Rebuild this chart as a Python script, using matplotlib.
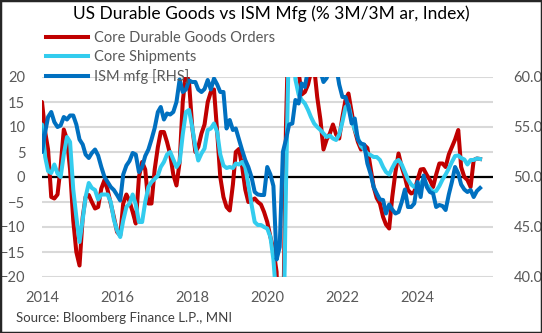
import matplotlib
matplotlib.use('Agg')
import matplotlib.pyplot as plt
import matplotlib.dates as mdates
from matplotlib.patches import Rectangle
import pandas as pd

plt.rcParams['font.family'] = ['Lato', 'DejaVu Sans']

# monthly, Dec 2013 .. Sep 2025
dates = pd.date_range('2013-12-01', periods=142, freq='MS')

core_orders = [
    4, 15, 9, 5.5, -4, -4.3, -3.5, 2, 9.5, 7.5, 1.5, -8.7, -15,
    -17.7, -8, -4, -3.6, -5, -6.3, -6, -2.3, -0.6, -2.6, -5.3, -8,
    -11, -11.7, -5.3, -3.5, -4.8, -7, -9.3, 0, 3, 1.5, -5.3, -5.3,
    1.5, 6, 9, 9, 7, 4.5, 0.5, -1.7, 3, 15, 21, 19,
    10, 5, 6, 8.7, 10.5, 15, 17, 17.5, 9, 0, -4, -6,
    -6.7, -1.5, 5, 5.6, 2.2, -2.5, -5, -4.7, -4.3, -5, -5.5, -7,
    -9, -12, -14.5, -19, -45, -35, 10, 35, 25, 22, 21, 16.5,
    17, 18.5, 21, 22, 16, 11.5, 5.5, 7.5, 8.7, 10.5, 8.5, 7.7,
    12, 15.5, 16.7, 13, 9.4, 7, 5.5, 6.4, 5.8, 2, -2, -4.2,
    -5.3, -8, -9.5, -10.3, -4, 1, 4.7, 2, 0, -2.6, -3.3, -3,
    -0.6, 1.5, 1.6, 0.4, -0.6, -2, 0.5, 2.7, 2.7, 2, 4.5, 6,
    7.5, 9.4, 2, 0, -0.6, -2, 3.4, 3.7, 3.6,
]

core_shipments = [
    10, 10.5, 4, 1.2, 0.8, 2.5, 0.7, 0, 4.5, 8, 7, -2.5, -8,
    -13, -8.5, -4, -1.2, -2.2, -2.6, -4.5, -3.5, -3.5, -3.5, -5, -8.5,
    -10.7, -12, -8.7, -6, -5.3, -3.5, -5.5, -9, -9, -5, -2, -1,
    -0.4, 0.3, 2, 3, 4.5, 5, 3.5, 2, 3, 8.5, 13, 13.4,
    10, 6, 3.3, 4.7, 5.7, 9.4, 9.7, 10.7, 9, 4.5, 2.3, 1.8,
    2, 1.8, 2.7, 2.5, 3, 2, -1.5, -5.5, -9, -9.6, -9.6, -10,
    -10.3, -12, -16.5, -25, -45, -40, -2, 30, 30, 19.5, 16.5, 15.4,
    14.7, 13.4, 12, 10.7, 10, 9.4, 8.7, 8, 8.3, 7.7, 7.4, 8.5,
    11, 14, 14.5, 11.5, 9.5, 7.8, 6.2, 5.5, 4.7, 4.4, 4, 4,
    3.4, 2, 1, 0.5, 1.8, 3, 3.4, 2.5, 1, -0.5, -1.5, -2,
    -1.5, -1.3, -0.5, -1.6, -2.3, -3, -2.8, -1.8, -0.5, 0.5, 1.7, 3,
    4.2, 4.3, 3.8, 3.5, 2.5, 3.4, 3.4, 3.7, 3.6,
]

ism_mfg = [
    57.0, 52.5, 54.5, 56.0, 56.5, 55.5, 55.0, 55.15, 56.0, 55.75, 56.15, 56.15, 55.25,
    53.75, 53.25, 52.25, 51.9, 52.4, 52.75, 52.15, 51.0, 50.0, 49.5, 49.0, 48.7,
    48.2, 47.65, 50.25, 51.15, 51.6, 52.4, 52.25, 50.5, 51.0, 52.1, 52.75, 53.75,
    54.9, 56.5, 57.0, 55.75, 56.35, 56.25, 56.5, 57.5, 59.75, 58.5, 58.75, 59.65,
    59.5, 59.5, 58.75, 58.5, 58.8, 59.7, 58.75, 59.85, 59.25, 58.5, 58.5, 54.85,
    55.7, 54.7, 54.85, 53.75, 52.7, 51.7, 51.0, 50.0, 48.5, 48.25, 48.2, 48.2,
    51.0, 50.25, 49.1, 41.75, 43.0, 52.5, 53.75, 55.25, 55.35, 57.7, 57.35, 59.35,
    59.0, 60.8, 64.5, 60.7, 61.2, 60.6, 59.5, 59.9, 61.1, 60.8, 61.1, 59.25,
    58.0, 58.0, 57.0, 55.35, 55.85, 53.7, 53.35, 53.25, 51.35, 50.35, 49.0, 48.35,
    47.75, 47.7, 46.35, 47.25, 46.75, 46.35, 46.5, 47.5, 48.75, 47.0, 47.0, 47.35,
    49.5, 48.0, 50.15, 49.0, 48.5, 48.35, 47.0, 47.2, 47.1, 46.7, 48.25, 49.5,
    51.0, 50.35, 49.25, 48.75, 48.5, 48.7, 48.0, 48.6, 48.9,
]

W, H = 542, 333
fig = plt.figure(figsize=(W / 100, H / 100), dpi=100)
ax = fig.add_axes([42 / W, 1 - 277 / H, (492.6 - 42) / W, 200 / H])
ax2 = ax.twinx()

red = '#C00000'
cyan = '#33CCEE'
blue = '#0070C0'
grey_txt = '#595959'

for v in range(-20, 21, 5):
    ax.axhline(v, color='#D9D9D9', lw=1.5, zorder=0)
ax.axhline(0, color='black', lw=1.6, zorder=1)

l1, = ax.plot(dates, core_orders, color=red, lw=2.9, label='Core Durable Goods Orders', zorder=2)
l2, = ax.plot(dates, core_shipments, color=cyan, lw=2.9, label='Core Shipments', zorder=3)
l3, = ax2.plot(dates, ism_mfg, color=blue, lw=2.9, label='ISM mfg [RHS]')

ax.set_xlim(pd.Timestamp('2014-01-01'), pd.Timestamp('2026-01-01'))
ax.set_ylim(-20, 20)
ax2.set_ylim(40, 60)
ax.set_yticks(range(-20, 21, 5))
ax2.set_yticks([40, 45, 50, 55, 60])
ax2.set_yticklabels(['%.1f' % t for t in [40, 45, 50, 55, 60]])
ax.set_xticks([pd.Timestamp('%d-01-01' % y) for y in range(2014, 2025, 2)])
ax.xaxis.set_major_formatter(mdates.DateFormatter('%Y'))

for a in (ax, ax2):
    for s in a.spines.values():
        s.set_visible(False)
    a.tick_params(length=0, labelsize=10.5, labelcolor=grey_txt)
ax.tick_params(axis='y', pad=12)
ax2.tick_params(axis='y', pad=15)
ax.tick_params(axis='x', pad=10)

fig.text(0.5, 1 - 14 / H, 'US Durable Goods vs ISM Mfg (% 3M/3M ar, Index)',
         ha='center', va='center', fontsize=12.5, color='black')

leg = fig.legend(handles=[l1, l2, l3], loc='upper left',
                 bbox_to_anchor=(40 / W, 1 - 25 / H), frameon=False,
                 fontsize=10.5, labelcolor=grey_txt, handlelength=2.9,
                 handletextpad=0.4, labelspacing=0.35, borderaxespad=0)

fig.text(16 / W, 1 - 318 / H, 'Source: Bloomberg Finance L.P., MNI',
         ha='left', va='center', fontsize=9.5, color='#404040')

fig.patches.append(Rectangle((0, 0), 1, 1, transform=fig.transFigure,
                             fill=False, edgecolor='#262626', lw=2.5))

fig.savefig('out.png', dpi=100)
